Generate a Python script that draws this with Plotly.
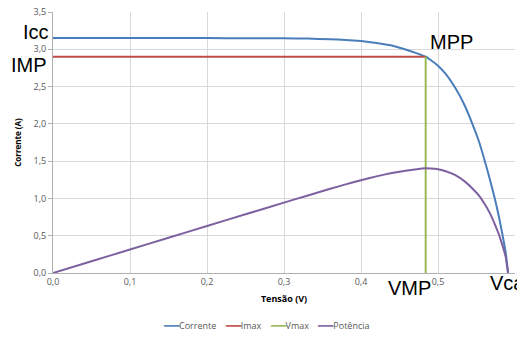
import plotly.graph_objects as go

# I-V curve of the cell (Tensão in V, Corrente in A)
tensao = [0.0, 0.05, 0.10, 0.15, 0.20, 0.25, 0.30, 0.33, 0.36, 0.38, 0.40, 0.42,
          0.44, 0.46, 0.47, 0.484, 0.49, 0.50, 0.51, 0.522, 0.535, 0.545, 0.553,
          0.56, 0.567, 0.574, 0.579, 0.584, 0.588, 0.591]
corrente = [3.15, 3.15, 3.15, 3.15, 3.15, 3.149, 3.147, 3.143, 3.135, 3.125, 3.11,
            3.085, 3.05, 2.99, 2.955, 2.90, 2.86, 2.78, 2.67, 2.49, 2.24, 1.99,
            1.77, 1.53, 1.27, 0.99, 0.76, 0.50, 0.27, 0.0]
# Power curve on the same voltage grid (W)
potencia = [0.0, 0.158, 0.315, 0.473, 0.63, 0.787, 0.944, 1.037, 1.129, 1.188,
            1.244, 1.296, 1.342, 1.375, 1.389, 1.404, 1.402, 1.392, 1.365, 1.315,
            1.225, 1.13, 1.04, 0.935, 0.81, 0.65, 0.52, 0.36, 0.21, 0.0]

# Maximum power point
v_mp = 0.484
i_mp = 2.90
i_cc = 3.15
v_ca = 0.591

imax_x = [0.0, v_mp]
imax_y = [i_mp, i_mp]
vmax_x = [v_mp, v_mp]
vmax_y = [0.0, i_mp]

x_ticks = [0.0, 0.1, 0.2, 0.3, 0.4, 0.5, 0.6]
y_ticks = [0.0, 0.5, 1.0, 1.5, 2.0, 2.5, 3.0, 3.5]

BLUE = "#4a7ebb"
RED = "#be4b48"
GREEN = "#98b954"
PURPLE = "#7d60a0"
GRID = "#d9d9d9"
TICK = "#595959"

series = [
    ("Corrente", tensao, corrente, BLUE, True),
    ("Imax", imax_x, imax_y, RED, False),
    ("Vmax", vmax_x, vmax_y, GREEN, False),
    ("Potência", tensao, potencia, PURPLE, True),
]

fig = go.Figure()
for name, xs, ys, color, smooth in series:
    line = dict(color=color, width=2)
    if smooth:
        line.update(shape="spline", smoothing=0.3)
    fig.add_trace(go.Scatter(x=xs, y=ys, name=name, mode="lines", line=line))

# Compact legend row under the x-axis title
legend_text = "&nbsp;&nbsp;&nbsp;&nbsp;".join(
    f'<span style="color:{color}">━━━</span>{name}'
    for name, _, _, color, _ in series
)

big = dict(family="Liberation Sans, Arial, sans-serif", size=20, color="black")
annotations = [
    dict(x=0, y=i_cc, xref="x", yref="y", text="Icc", showarrow=False,
         xanchor="right", yanchor="middle", xshift=-2, yshift=6, font=big),
    dict(x=0, y=i_mp, xref="x", yref="y", text="IMP", showarrow=False,
         xanchor="right", yanchor="middle", xshift=-4, yshift=-8, font=big),
    dict(x=v_mp, y=i_mp, xref="x", yref="y", text="MPP", showarrow=False,
         xanchor="left", yanchor="bottom", xshift=2, yshift=2, font=big),
    dict(x=v_mp, y=0, xref="x", yref="y", text="VMP", showarrow=False,
         xanchor="right", yanchor="top", xshift=7, yshift=-2, font=big),
    dict(x=v_ca, y=0, xref="x", yref="y", text="Vca", showarrow=False,
         xanchor="left", yanchor="top", xshift=-20, yshift=3, font=big),
    dict(x=0.5, y=-0.2, xref="paper", yref="paper", text=legend_text,
         showarrow=False, xanchor="center", yanchor="middle", xshift=-18,
         font=dict(family="Open Sans, sans-serif", size=9, color=TICK)),
]

fig.update_layout(
    width=517, height=338,
    margin=dict(l=53, r=2, t=12, b=65, autoexpand=False),
    paper_bgcolor="white", plot_bgcolor="white",
    separators=",.",
    font=dict(family="Open Sans, sans-serif", size=9, color=TICK),
    showlegend=False,
    annotations=annotations,
    xaxis=dict(range=[0, 0.6], tickvals=x_ticks, tickformat=".1f",
               showgrid=True, gridcolor=GRID, gridwidth=1, automargin=False,
               showline=True, linecolor="#b0b0b0", zeroline=False,
               ticks="", tickfont=dict(size=9, color=TICK),
               title=dict(text="<b>Tensão (V)</b>", font=dict(size=9, color="black"),
                          standoff=8)),
    yaxis=dict(range=[0, 3.5], tickvals=y_ticks, tickformat=".1f",
               showgrid=True, gridcolor=GRID, gridwidth=1, automargin=False,
               showline=True, linecolor="#b0b0b0", zeroline=False,
               ticks="outside", ticklen=4, tickcolor="#b0b0b0",
               tickfont=dict(size=9, color=TICK),
               title=dict(text="<b>Corrente (A)</b>", font=dict(size=8, color="black"),
                          standoff=10)),
)

fig.write_html("out.html")
